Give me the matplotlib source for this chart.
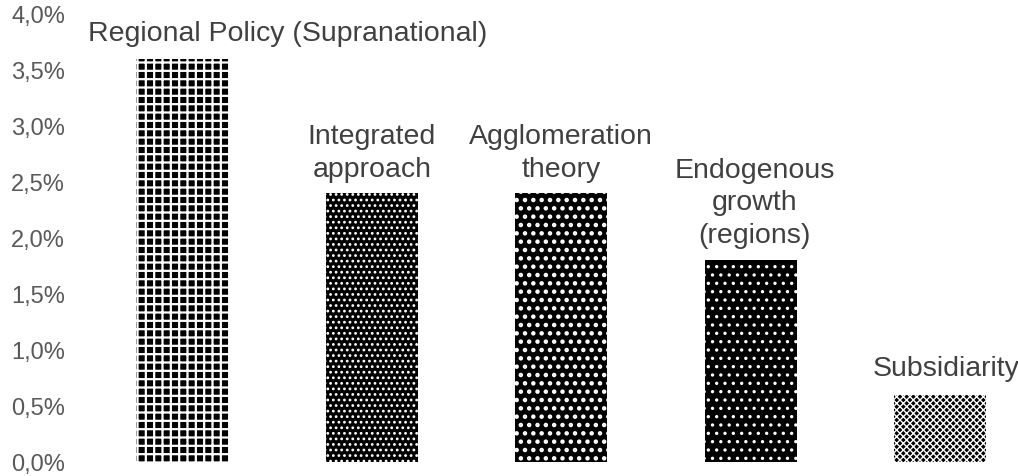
import matplotlib
matplotlib.use("Agg")
import matplotlib.pyplot as plt

plt.rcParams['font.family'] = ['Liberation Sans', 'DejaVu Sans']

categories = ["Regional Policy (Supranational)", "Integrated\napproach",
              "Agglomeration\ntheory", "Endogenous\ngrowth\n(regions)", "Subsidiarity"]
values = [3.6, 2.4, 2.4, 1.8, 0.6]
y_ticks = [0.0, 0.5, 1.0, 1.5, 2.0, 2.5, 3.0, 3.5, 4.0]
y_ticklabels = ["0,0%", "0,5%", "1,0%", "1,5%", "2,0%", "2,5%", "3,0%", "3,5%", "4,0%"]

hatches = ['++', '...', '..', '..', 'xxxxx']
hatch_lw = [1.6, 1.2, 2.0, 1.2, 1.0]
label_dx = [76, 0, 0, 3, 4]   # horizontal nudges for the labels, in points
label_dy = [9, 8, 8, 9, 10]

W, H = 1018, 477
fig = plt.figure(figsize=(W / 100, H / 100), dpi=100)
left_px, bottom_px, top_px = 87.8, 14, 15
slot = 189.4
ax = fig.add_axes([left_px / W, bottom_px / H, (W - left_px) / W, (H - top_px - bottom_px) / H])
ax.set_xlim(-0.5, -0.5 + (W - left_px) / slot)
ax.set_ylim(0, 4.0)

for i, (v, h, lw) in enumerate(zip(values, hatches, hatch_lw)):
    plt.rcParams['hatch.linewidth'] = lw
    b = ax.bar(i, v, width=0.486, color='black', edgecolor='white', linewidth=0, hatch=h)
    for p in b.patches:
        try:
            p.set_hatch_linewidth(lw)
        except AttributeError:
            pass
    ax.annotate(categories[i], xy=(i, v), xytext=(label_dx[i], label_dy[i]),
                textcoords='offset points', ha='center', va='bottom',
                fontsize=20.5, color='#404040', linespacing=1.33, annotation_clip=False)

ax.set_yticks(y_ticks)
ax.set_yticklabels(y_ticklabels, fontsize=17, color='#595959')
ax.set_xticks([])
ax.tick_params(axis='y', length=0, pad=16.5)
for s in ax.spines.values():
    s.set_visible(False)

fig.savefig("out.png", dpi=100)
